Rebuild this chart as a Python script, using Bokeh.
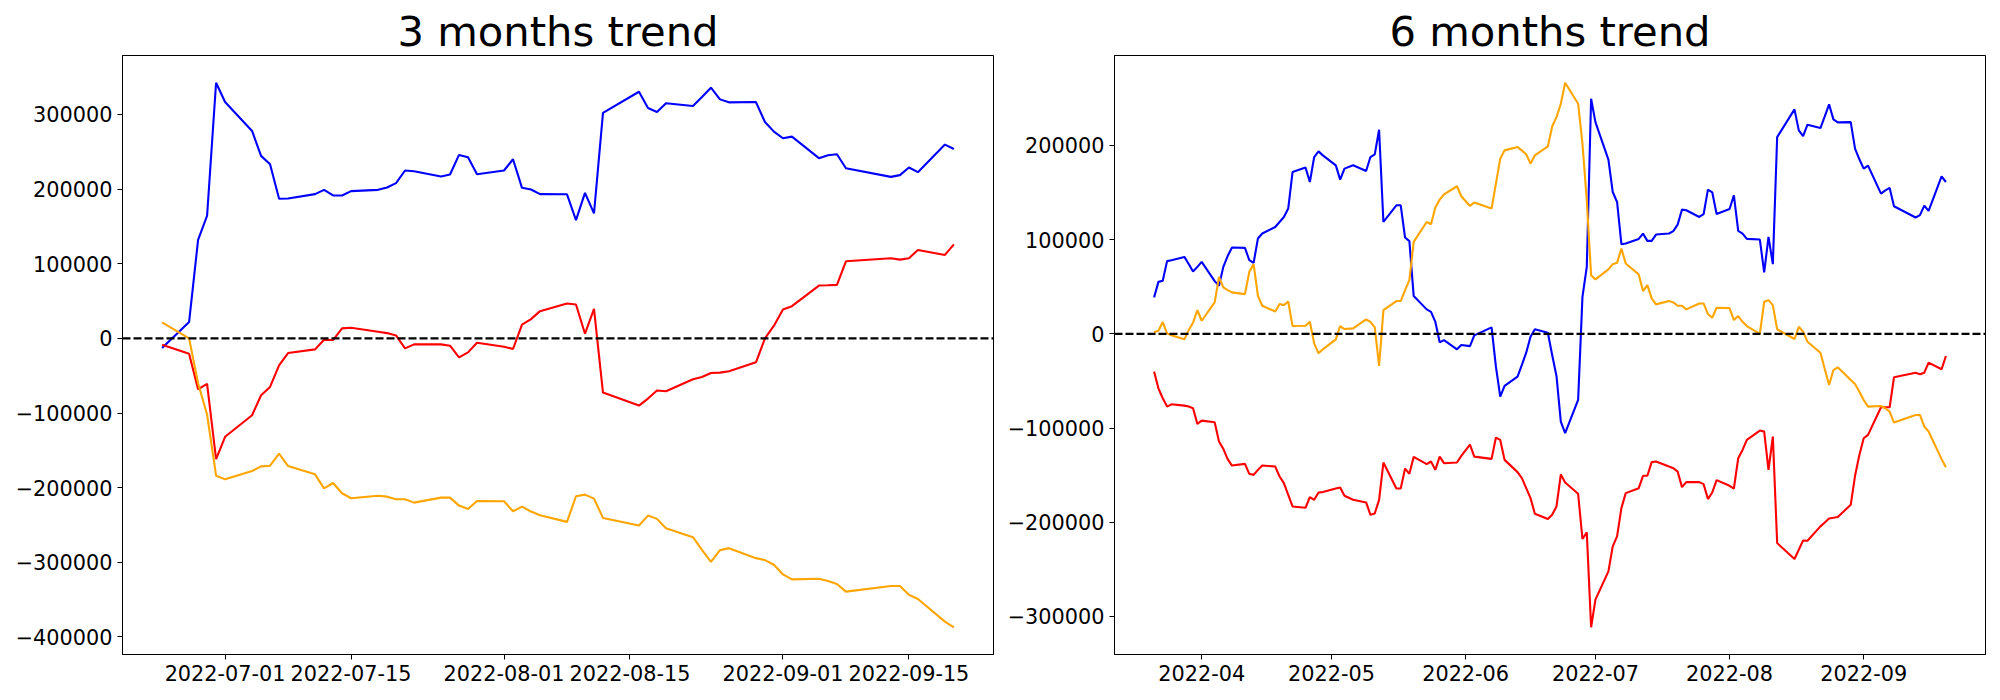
import pandas as pd
from bokeh.plotting import figure
from bokeh.models import Range1d, FixedTicker, DatetimeTickFormatter, CustomJSTickFormatter, Span
from bokeh.layouts import row
from bokeh.embed import file_html
from bokeh.resources import INLINE

# ---------------- data: 3 months ----------------
dates3 = (
    ["2022-06-%02d" % d for d in [24, 27, 28, 29, 30]]
    + ["2022-07-%02d" % d for d in [1, 4, 5, 6, 7, 8, 11, 12, 13, 14, 15, 18, 19, 20, 21, 22, 25, 26, 27, 28, 29]]
    + ["2022-08-%02d" % d for d in [1, 2, 3, 4, 5, 8, 9, 10, 11, 12, 16, 17, 18, 19, 22, 23, 24, 25, 26, 29, 30, 31]]
    + ["2022-09-%02d" % d for d in [1, 2, 5, 6, 7, 8, 13, 14, 15, 16, 19, 20]]
)
blue3 = [-13000, 21800, 131900, 164300, 342500,
         316600, 277900, 244500, 233400, 187000, 187400, 193300, 199000, 191500, 191500, 197300,
         199000, 202200, 208000, 224900, 224000, 216900, 219500, 245800, 242700, 220000,
         224900, 240000, 201700, 199500, 193300, 193000, 158500, 195000, 167400, 302000, 330400,
         308600, 303300, 314900, 311300, 323300, 335800, 320200, 316200, 316600, 289900, 277000,
         268100, 270300, 241400, 245400, 246700, 228000, 216400, 218700, 228900, 222700, 259600, 253800]
red3 = [-8400, -20500, -68100, -61000, -161700,
        -131800, -102900, -76200, -65000, -36100, -19600, -14700, -1800, -2200, 13400, 14200,
        8900, 7100, 4000, -13400, -8000, -8000, -9800, -25400, -18700, -5800,
        -11100, -14200, 18300, 25800, 36500, 46800, 45400, 6200, 39600, -72600, -90000,
        -80600, -69900, -70800, -54800, -51700, -46300, -45900, -44100, -32100, 0, 17000,
        38800, 43200, 70800, 71200, 71700, 103300, 107300, 105500, 107300, 118500, 111800, 126000]
orange3 = [21400, 0, -60000, -102000, -183900,
           -188800, -177700, -171500, -170600, -154500, -171000, -182100, -200900, -193700, -207500, -214200,
           -210700, -212000, -215500, -215500, -220000, -213300, -213300, -224000, -228500, -217800,
           -218200, -231600, -225300, -232000, -236900, -245800, -211500, -209300, -214700, -240500, -250700,
           -237400, -241800, -254300, -266300, -283200, -299300, -283700, -281000, -294400, -297000, -303300,
           -316200, -322900, -322000, -325100, -329100, -339300, -331800, -331800, -343400, -349100, -379400, -387000]

# ---------------- data: 6 months ----------------
dates6 = (
    ["2022-03-%02d" % d for d in [21, 22, 23, 24, 25, 28, 29, 30, 31]]
    + ["2022-04-%02d" % d for d in [1, 4, 5, 6, 7, 8, 11, 12, 13, 14, 15, 18, 19, 20, 21, 22, 25, 26, 27, 28, 29]]
    + ["2022-05-%02d" % d for d in [2, 3, 4, 6, 9, 10, 11, 12, 13, 16, 17, 18, 19, 20, 23, 24, 25, 26, 27, 30, 31]]
    + ["2022-06-%02d" % d for d in [2, 3, 7, 8, 9, 10, 13, 14, 15, 16, 17, 20, 21, 22, 23, 24, 27, 28, 29, 30]]
    + ["2022-07-%02d" % d for d in [1, 4, 5, 6, 7, 8, 11, 12, 13, 14, 15, 18, 19, 20, 21, 22, 25, 26, 27, 28, 29]]
    + ["2022-08-%02d" % d for d in [1, 2, 3, 4, 5, 8, 9, 10, 11, 12, 16, 17, 18, 19, 22, 23, 24, 25, 26, 29, 30, 31]]
    + ["2022-09-%02d" % d for d in [1, 2, 5, 6, 7, 8, 13, 14, 15, 16, 19, 20]]
)
blue6 = [38700, 55200, 56300, 77200, 78200, 81700, 74200, 66200, 71100,
         76400, 56000, 51000, 71100, 82600, 91700, 91300, 78200, 75400, 101200, 106500,
         113500, 118800, 124100, 133000, 171800, 176500, 161200, 187700, 193700, 189500,
         178900, 163700, 175400, 178900, 172900, 187700, 190600, 216700, 118800, 136500,
         136500, 102300, 98400, 40100, 26000, 23400, 12800, -9000, -6600, -16400, -11900,
         -13000, -1600, 6900, -34800, -66600, -55300, -45400, -33000, -20000, -3000,
         4800, 1200, -22500, -44700, -93100, -105500, -70200, 39300, 71100, 249600,
         224800, 184900, 150600, 140000, 95200, 95900, 100800, 106500, 98700, 98700, 105400,
         106500, 109000, 116000, 131900, 131200, 124100, 127000, 153100, 150300, 127300,
         132600, 147100, 109300, 106500, 100800, 100100, 65200, 102900, 74000, 208900, 238300,
         216000, 210000, 222000, 218500, 230800, 243600, 227700, 224500, 224800, 196600, 185300,
         175400, 178600, 148900, 152400, 154900, 135500, 123500, 126000, 136200, 130500, 167200, 161200]
red6 = [-40100, -57800, -68400, -77200, -74800, -76200, -77200, -79000, -95600,
        -92100, -93800, -114300, -122100, -133000, -139800, -138000, -148600, -149700, -144400, -139800,
        -140900, -151400, -158500, -170900, -183200, -184600, -173300, -176200, -168400, -168000,
        -164200, -163100, -171900, -176200, -179000, -192100, -190700, -176200, -136600, -164200,
        -164200, -143000, -148600, -130600, -138300, -135500, -144400, -130300, -137300, -136600, -129600,
        -117500, -130300, -132700, -110100, -112600, -133800, -146800, -153200, -163800, -174400,
        -191000, -196600, -192100, -183200, -149300, -157800, -169800, -217800, -210800, -311500,
        -282100, -252100, -225600, -215000, -185000, -169100, -163800, -150700, -150700, -136200, -135500,
        -140900, -142600, -146200, -162700, -157400, -157400, -159500, -175400, -168400, -155300,
        -161300, -164200, -132000, -123200, -112600, -102700, -103800, -144400, -109000, -222100, -239000,
        -229200, -219300, -219600, -204400, -200200, -196000, -195300, -194500, -181500, -150700, -128500,
        -110800, -107300, -77900, -77900, -77900, -46100, -41200, -42900, -41200, -30600, -37600, -23500]
orange6 = [1600, 3300, 12500, 500, -1600, -5800, 4000, 11800, 25200,
           13900, 33400, 60500, 49300, 46400, 44000, 42200, 65800, 74000, 40400, 29800,
           23800, 31600, 30500, 34400, 8300, 8600, 12800, -10100, -20700, -16400,
           -5800, 8300, 5100, 5800, 15400, 12800, 6900, -34100, 25200, 34800,
           34800, 46400, 57000, 97600, 118800, 116400, 134100, 142500, 148000, 156700, 146100,
           135800, 139400, 133000, 159500, 186000, 194800, 198300, 194800, 190600, 180700,
           189500, 199000, 220200, 230100, 244300, 266600, 244300, 201900, 141800, 62300,
           57800, 68400, 74000, 75400, 90600, 74700, 63100, 45400, 51700, 37600, 31300,
           34800, 33400, 29800, 29800, 26000, 32300, 32300, 21000, 17100, 27700,
           27300, 14600, 18900, 12800, 8300, 0, 34000, 35800, 30500, 4800, -5500,
           7500, 2200, -8400, -20000, -37400, -54300, -38400, -35500, -49000, -53200, -61400,
           -70200, -77300, -76600, -79000, -82500, -94200, -86100, -86100, -98400, -103700, -133000, -141500]

xticks3 = ["2022-07-01", "2022-07-15", "2022-08-01", "2022-08-15", "2022-09-01", "2022-09-15"]
xticks6 = ["2022-04-01", "2022-05-01", "2022-06-01", "2022-07-01", "2022-08-01", "2022-09-01"]
yticks3 = [-400000, -300000, -200000, -100000, 0, 100000, 200000, 300000]
yticks6 = [-300000, -200000, -100000, 0, 100000, 200000]

FONT = "DejaVu Sans"
YFMT = CustomJSTickFormatter(code="return (tick < 0 ? '\u2212' : '') + Math.abs(tick).toFixed(0);")


def ms(s):
    return pd.Timestamp(s).timestamp() * 1000.0


def make(title, dates, series, xticks, yticks, xfmt, width, bl, br):
    x = pd.to_datetime(dates)
    xmin, xmax = x.min(), x.max()
    xpad = (xmax - xmin) * 0.05
    allv = [v for s in series for v in s[0]]
    ymin, ymax = min(allv), max(allv)
    ypad = (ymax - ymin) * 0.05
    p = figure(width=width, height=694, x_axis_type="datetime",
               x_range=Range1d(xmin - xpad, xmax + xpad),
               y_range=Range1d(ymin - ypad, ymax + ypad),
               output_backend="svg", toolbar_location=None,
               min_border_left=bl, min_border_right=br, min_border_top=55, min_border_bottom=40)
    p.title.text = title
    p.title.text_font = FONT
    p.title.text_font_size = "41.7px"
    p.title.text_font_style = "normal"
    p.title.text_color = "black"
    p.title.align = "center"
    p.title.standoff = 0
    p.xgrid.visible = False
    p.ygrid.visible = False
    p.outline_line_color = "black"
    p.outline_line_alpha = 1
    p.outline_line_width = 1
    p.background_fill_color = "white"
    p.border_fill_color = "white"
    for ax in (p.xaxis[0], p.yaxis[0]):
        ax.major_label_text_font = FONT
        ax.major_label_text_font_size = "20.8px"
        ax.major_label_text_color = "black"
        ax.axis_line_color = "black"
        ax.major_tick_line_color = "black"
        ax.major_tick_out = 5
        ax.major_tick_in = 0
        ax.minor_tick_line_color = None
        ax.major_label_standoff = 5
    p.xaxis[0].ticker = FixedTicker(ticks=[ms(t) for t in xticks])
    p.xaxis[0].formatter = DatetimeTickFormatter(
        milliseconds=xfmt, seconds=xfmt, minsec=xfmt, minutes=xfmt, hourmin=xfmt, hours=xfmt,
        days=xfmt, months=xfmt, years=xfmt)
    p.yaxis[0].ticker = FixedTicker(ticks=yticks)
    p.yaxis[0].formatter = YFMT
    for vals, col in series:
        p.line(x=x, y=vals, line_color=col, line_width=2.1)
    p.add_layout(Span(location=0, dimension="width", line_color="black",
                      line_dash="8 3", line_width=2.1))
    return p


p1 = make("3 months trend", dates3,
          [(blue3, "blue"), (red3, "red"), (orange3, "orange")],
          xticks3, yticks3, "%Y-%m-%d", 1003, 122, 10)
p2 = make("6 months trend", dates6,
          [(blue6, "blue"), (red6, "red"), (orange6, "orange")],
          xticks6, yticks6, "%Y-%m", 989, 111, 7)

layout = row(p1, p2)
with open("out.html", "w", encoding="utf-8") as f:
    f.write(file_html(layout, INLINE))
